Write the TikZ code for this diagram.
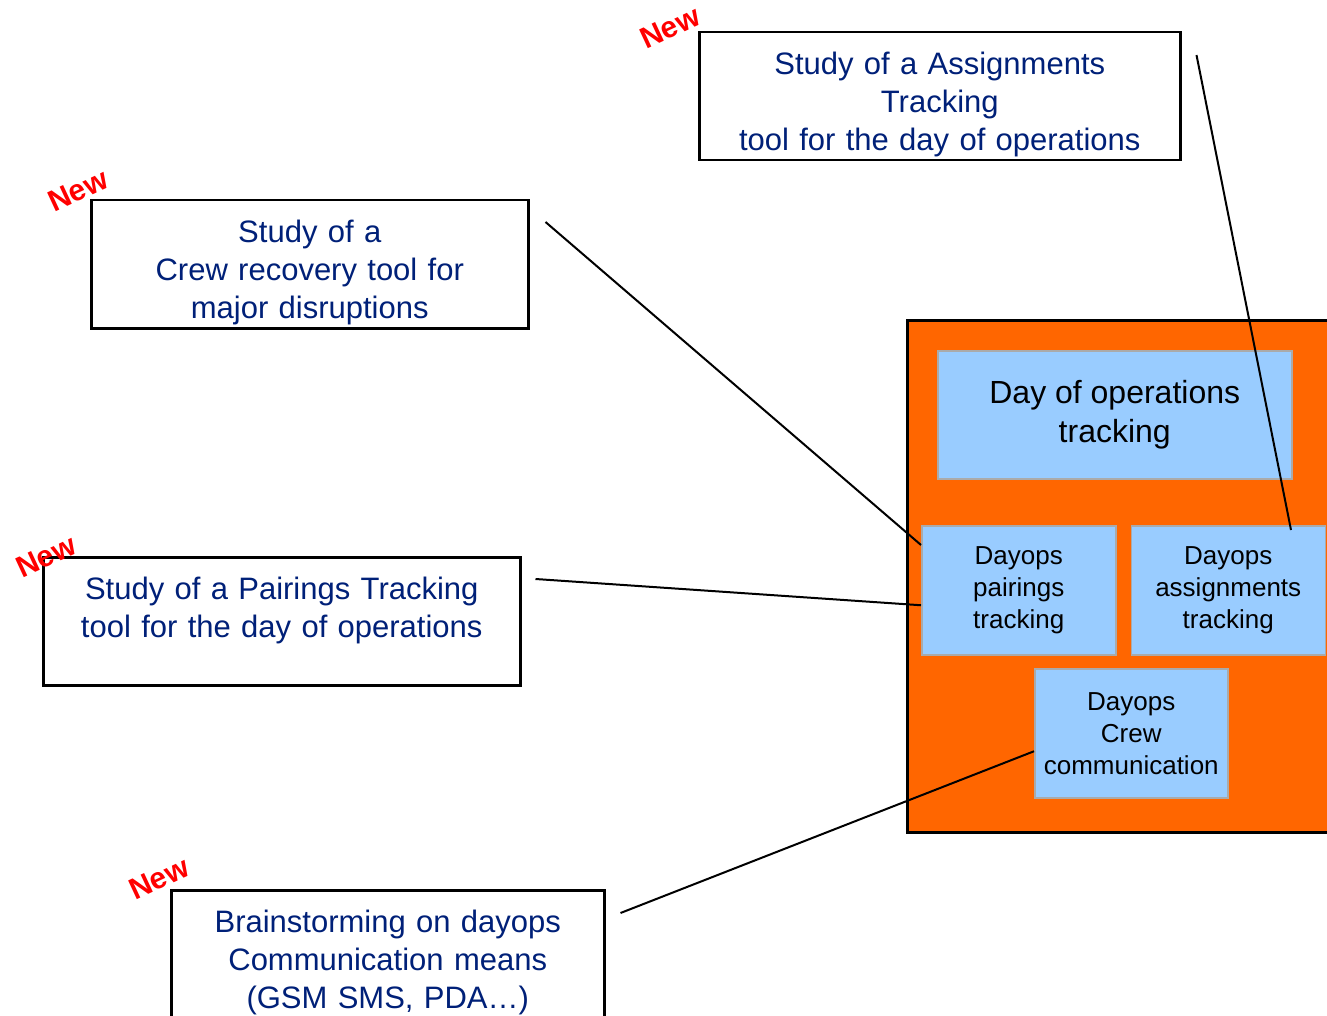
\documentclass[tikz,border=0pt]{standalone}
\usepackage{fontspec}
\setmainfont{Liberation Sans}
\usepackage{xcolor}
\usetikzlibrary{positioning}

\definecolor{navytext}{RGB}{0,32,120}
\definecolor{opsorange}{RGB}{255,102,0}
\definecolor{opsblue}{RGB}{153,204,255}
\definecolor{opsedge}{RGB}{170,170,170}

\begin{document}
\begin{tikzpicture}[
    x=1pt, y=-1pt,
    study/.style={rectangle, draw, line width=2.5pt, inner sep=0pt, anchor=north west, text=navytext, align=center, font=\fontsize{31}{38}\selectfont, text height=42pt},
    ops/.style={rectangle, draw=opsedge, line width=1.5pt, fill=opsblue, inner sep=0pt, anchor=north west, align=center, font=\fontsize{26}{32}\selectfont},
    frame/.style={rectangle, draw, line width=2.5pt, fill=opsorange, inner sep=0pt, anchor=north west},
    newtag/.style={text=red, font=\bfseries\fontsize{30}{32}\selectfont, rotate=25, inner sep=0pt},
    link/.style={line width=2pt}
]
\useasboundingbox (0,0) rectangle (1327,1016);
\clip (0,0) rectangle (1327,1016);

% Study boxes
\node[study, text width=481pt, text depth=86pt] (assign) at (698,31) {Study of a Assignments\\Tracking\\tool for the day of operations};
\node[study, text width=437pt, text depth=86pt] (recovery) at (90,199) {Study of a\\Crew recovery tool for\\major disruptions};
\node[study, text width=477pt, text depth=86pt] (pairstudy) at (42,556) {Study of a Pairings Tracking\\tool for the day of operations};
\node[study, text width=433pt, text depth=140pt] (brainstorm) at (170,889) {Brainstorming on dayops\\Communication means\\(GSM SMS, PDA\dots)};

% New tags
\node[newtag] (newassign) at (670,27) {New};
\node[newtag] (newrecovery) at (78,190) {New};
\node[newtag] (newpairstudy) at (46,556) {New};
\node[newtag] (newbrainstorm) at (159,878) {New};

% Day of operations block
\node[frame, minimum width=440pt, minimum height=512pt] (ops) at (906,319) {};
\node[ops, minimum width=354pt, minimum height=128pt, font=\fontsize{32}{39}\selectfont] (dayops) at (937,350) {Day of operations\\tracking};
\node[ops, minimum width=194pt, minimum height=129pt] (pairings) at (921,525) {Dayops\\pairings\\tracking};
\node[ops, minimum width=194pt, minimum height=129pt, right=14pt of pairings] (assignments) {Dayops\\assignments\\tracking};
\node[ops, minimum width=193pt, minimum height=129pt] (crewcomm) at (1034,668) {Dayops\\Crew\\communication};

% Links
\coordinate (assign-tip) at ([xshift=15pt,yshift=-24pt]assign.north east);
\coordinate (recovery-tip) at ([xshift=16pt,yshift=-23pt]recovery.north east);
\coordinate (pairstudy-tip) at ([xshift=14pt,yshift=-23pt]pairstudy.north east);
\coordinate (brainstorm-tip) at ([xshift=15pt,yshift=-24pt]brainstorm.north east);

\draw[link] (assign-tip) -- ([xshift=-35pt,yshift=-5pt]assignments.north east);
\draw[link] (recovery-tip) -- ([yshift=-20pt]pairings.north west);
\draw[link] (pairstudy-tip) -- ([yshift=-15pt]pairings.west);
\draw[link] (brainstorm-tip) -- ([yshift=-18pt]crewcomm.west);

\end{tikzpicture}
\end{document}
